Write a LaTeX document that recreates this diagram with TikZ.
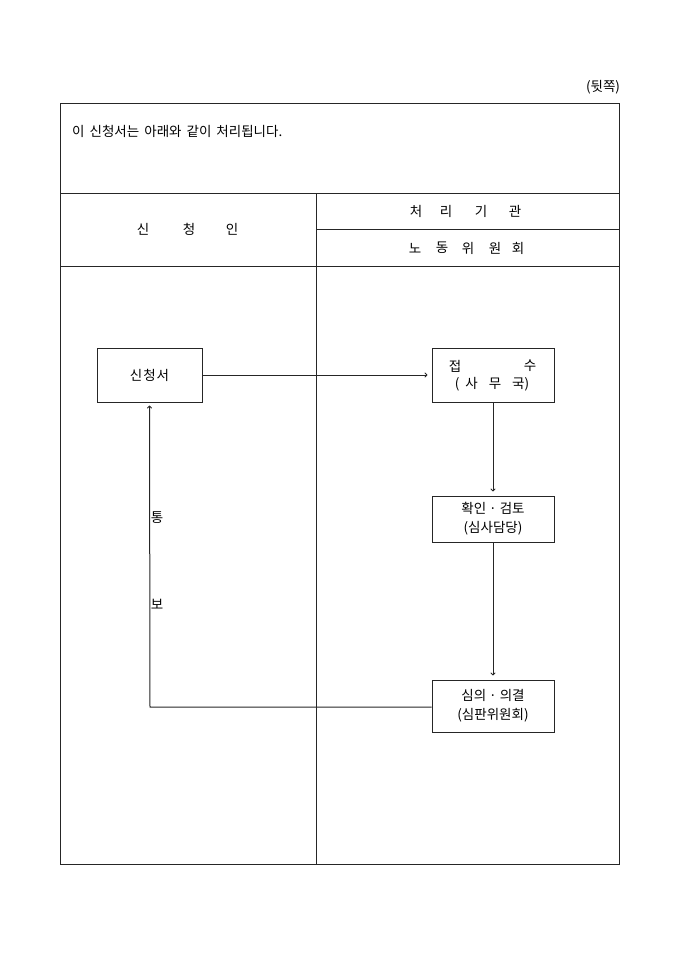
\documentclass[tikz,border=0pt]{standalone}
\usepackage{fontspec}
\setmainfont{Noto Sans CJK KR}
\usetikzlibrary{arrows.meta}
\begin{document}
\begin{tikzpicture}[x=1pt,y=-1pt,
  every node/.style={font=\fontsize{13.5}{19}\selectfont, inner sep=0pt},
  rule/.style={draw=black!85, line width=1pt},
  box/.style={draw=black!85, line width=1pt, rectangle},
  arr/.style={draw=black!85, line width=1pt, -{To[length=3pt,width=5pt]}, shorten >=4pt}]
\useasboundingbox (0,0) rectangle (680,962);
% header label
\node (back) at (603,87) {(뒷쪽)};
% table frame
\draw[rule] (60,103) rectangle (619,864);
\draw[rule] (60,193) -- (619,193);
\draw[rule] (60,266) -- (619,266);
\draw[rule] (316,193) -- (316,864);
\draw[rule] (316,229) -- (619,229);
% texts
\node[anchor=west] (intro) at (72,131) {이\hspace{2pt} 신청서는\hspace{2pt} 아래와\hspace{2pt} 같이\hspace{2pt} 처리됩니다.};
\node (s1) at (143,229) {신};
\node (s2) at (189,229) {청};
\node (s3) at (232,229) {인};
\node (c1) at (416,211) {처};
\node (c2) at (446,211) {리};
\node (c3) at (481,211) {기};
\node (c4) at (515,211) {관};
\node (n1) at (415,248) {노};
\node (n2) at (442,248) {동};
\node (n3) at (468,248) {위};
\node (n4) at (495,248) {원};
\node (n5) at (518,248) {회};
% boxes
\node[box, minimum width=105, minimum height=54] (app) at (149.5,375) {신\hspace{1pt}청\hspace{1pt}서};
\node[box, minimum width=122, minimum height=54] (recv) at (493,375) {};
\node (r1) at (455,366) {접};
\node (r2) at (530,366) {수};
\node (r3) at (492,384) {(\hspace{6pt}사\hspace{11pt}무\hspace{11pt}국)};
\node[box, minimum width=122, minimum height=46, align=center] (chk) at (493,519) {확인 · 검토\\(심사담당)};
\node[box, minimum width=122, minimum height=52, align=center] (dec) at (493,706) {심의 · 의결\\(심판위원회)};
% connectors
\draw[arr] (app.east) -- (recv.west);
\draw[arr] (recv.south) -- (chk.north);
\draw[arr] (chk.south) -- (dec.north);
\coordinate (corner) at (150,707);
\draw[arr, shorten >=3pt] (dec.west |- corner) -- (corner) -- (app.south);
\node (t1) at (157,518) {통};
\node (t2) at (157,604) {보};
\end{tikzpicture}
\end{document}
